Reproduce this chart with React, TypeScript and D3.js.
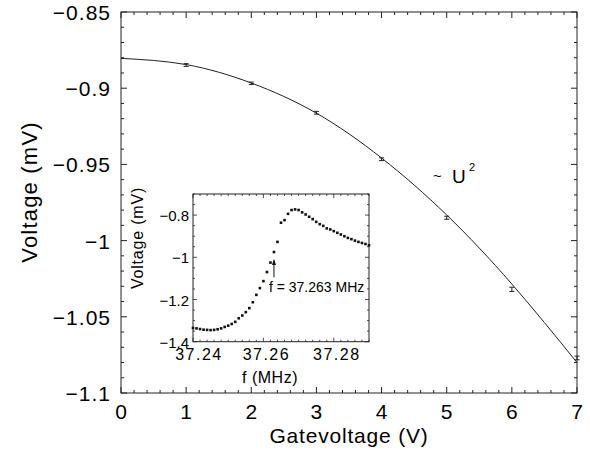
import React from "react";
import * as d3 from "d3";

// ---- main plot data ----
const gateV = [1, 2, 3, 4, 5, 6, 7];
const voltage = [-0.8848, -0.8968, -0.9161, -0.9466, -0.985, -1.032, -1.077];
const voltageErr = [0.0009, 0.0008, 0.0009, 0.0009, 0.001, 0.0014, 0.0012];
// fitted ~U^2 curve
const fitX = [0, 1, 2, 3, 4, 5, 6, 7];
const fitV = [-0.8804, -0.8845, -0.8966, -0.9164, -0.9458, -0.9832, -1.0285, -1.08];

const mainXTicks = [0, 1, 2, 3, 4, 5, 6, 7];
const mainXLabels = ["0", "1", "2", "3", "4", "5", "6", "7"];
const mainYTicks = [-0.85, -0.9, -0.95, -1, -1.05, -1.1];
const mainYLabels = ["\u22120.85", "\u22120.9", "\u22120.95", "\u22121", "\u22121.05", "\u22121.1"];

// ---- inset data ----
const insetF = [
  37.24, 37.241, 37.242, 37.243, 37.244, 37.245, 37.246, 37.247, 37.248, 37.249,
  37.25, 37.251, 37.252, 37.253, 37.254, 37.255, 37.256, 37.257, 37.258, 37.259,
  37.26, 37.261, 37.262, 37.263, 37.264, 37.265, 37.266, 37.267, 37.268, 37.269,
  37.27, 37.271, 37.272, 37.273, 37.274, 37.275, 37.276, 37.277, 37.278, 37.279,
  37.28, 37.281, 37.282, 37.283, 37.284, 37.285, 37.286, 37.287, 37.288, 37.289,
  37.29,
];
const insetV = [
  -1.335, -1.337, -1.34, -1.343, -1.344, -1.345, -1.344, -1.341, -1.337, -1.33,
  -1.324, -1.316, -1.306, -1.289, -1.276, -1.26, -1.241, -1.213, -1.178, -1.146,
  -1.113, -1.07, -1.025, -0.975, -0.927, -0.836, -0.824, -0.794, -0.776, -0.773,
  -0.776, -0.787, -0.797, -0.808, -0.819, -0.832, -0.843, -0.851, -0.863, -0.868,
  -0.876, -0.884, -0.892, -0.9, -0.908, -0.914, -0.921, -0.927, -0.932, -0.937,
  -0.943,
];
const insetXTicks = [37.24, 37.26, 37.28];
const insetXLabels = ["37.24", "37.26", "37.28"];
const insetYTicks = [-1.4, -1.2, -1, -0.8];
const insetYLabels = ["\u22121.4", "\u22121.2", "\u22121", "\u22120.8"];
const markerF = 37.263;
const markerLabel = "f = 37.263 MHz";

const FONT = "'Liberation Sans', Arial, Helvetica, sans-serif";

export default function App() {
  const x = d3.scaleLinear().domain([0, 7]).range([121, 577]);
  const y = d3.scaleLinear().domain([-1.1, -0.85]).range([393, 12]);
  const ix = d3.scaleLinear().domain([37.24, 37.29]).range([193, 369]);
  const iy = d3.scaleLinear().domain([-1.4, -0.7]).range([341.7, 194]);

  const fitLine = d3
    .line<number>()
    .x((d) => x(d))
    .y((_, i) => y(fitV[i]))
    .curve(d3.curveNatural);

  const xMinor = d3.range(0, 7.0001, 0.2);
  const yMinor = d3.range(-1.1, -0.8499, 0.01);
  const ixMinor = d3.range(37.24, 37.29001, 0.002);
  const iyMinor = d3.range(-1.4, -0.6999, 0.05);
  const isMajor = (v: number, arr: number[]) => arr.some((a) => Math.abs(a - v) < 1e-6);

  const stroke = "#222";
  const [x0, x1] = x.range();
  const [y0, y1] = y.range();
  const [ix0, ix1] = ix.range();
  const [iy0, iy1] = iy.range();

  return (
    <svg
      width={590}
      height={456}
      style={{ position: "absolute", left: 0, top: 0, background: "#fff" }}
      fontFamily={FONT}
    >
      <rect x={0} y={0} width={590} height={456} fill="#fff" />
      {/* main frame */}
      <rect x={x0} y={y1} width={x1 - x0} height={y0 - y1} fill="none" stroke={stroke} strokeWidth={1} />
      {xMinor.map((v, i) => {
        const len = isMajor(v, mainXTicks) ? 6 : 3;
        return (
          <g key={"xt" + i} stroke={stroke} strokeWidth={1}>
            <line x1={x(v)} x2={x(v)} y1={y0} y2={y0 - len} />
            <line x1={x(v)} x2={x(v)} y1={y1} y2={y1 + len} />
          </g>
        );
      })}
      {yMinor.map((v, i) => {
        const len = isMajor(v, mainYTicks) ? 6 : 3;
        return (
          <g key={"yt" + i} stroke={stroke} strokeWidth={1}>
            <line x1={x0} x2={x0 + len} y1={y(v)} y2={y(v)} />
            <line x1={x1} x2={x1 - len} y1={y(v)} y2={y(v)} />
          </g>
        );
      })}
      {mainXTicks.map((v, i) => (
        <text key={"xl" + i} x={x(v)} y={419} fontSize={21} letterSpacing={1} dx={0.5} textAnchor="middle" fill="#000">
          {mainXLabels[i]}
        </text>
      ))}
      {mainYTicks.map((v, i) => (
        <text key={"yl" + i} x={111} y={y(v) + 8} fontSize={21} letterSpacing={1} textAnchor="end" fill="#000">
          {mainYLabels[i]}
        </text>
      ))}
      <text x={(x0 + x1) / 2} y={443} fontSize={21} letterSpacing={0.8} textAnchor="middle" fill="#000">
        Gatevoltage (V)
      </text>
      <text
        transform={`translate(37,${192}) rotate(-90)`}
        fontSize={22}
        letterSpacing={1.2}
        textAnchor="middle"
        fill="#000"
      >
        Voltage (mV)
      </text>

      {/* fit curve */}
      <path d={fitLine(fitX) || ""} fill="none" stroke="#222" strokeWidth={1} />
      {/* error bars */}
      {gateV.map((g, i) => {
        const cx = x(g);
        const top = y(voltage[i] + voltageErr[i]);
        const bot = y(voltage[i] - voltageErr[i]);
        return (
          <g key={"eb" + i} stroke="#222" strokeWidth={1}>
            <line x1={cx} x2={cx} y1={top} y2={bot} />
            <line x1={cx - 2.5} x2={cx + 2.5} y1={top} y2={top} />
            <line x1={cx - 2.5} x2={cx + 2.5} y1={bot} y2={bot} />
          </g>
        );
      })}
      <text x={433} y={181} fontSize={15} fill="#000">
        ~
      </text>
      <text x={452} y={183} fontSize={19} fill="#000">
        U
      </text>
      <text x={469} y={170.5} fontSize={11} fill="#000">
        2
      </text>

      {/* inset */}
      <rect x={ix0} y={iy1} width={ix1 - ix0} height={iy0 - iy1} fill="#fff" stroke={stroke} strokeWidth={1} />
      {ixMinor.map((v, i) => {
        const len = isMajor(v, insetXTicks) ? 4 : 2;
        return (
          <g key={"ixt" + i} stroke={stroke} strokeWidth={0.8}>
            <line x1={ix(v)} x2={ix(v)} y1={iy0} y2={iy0 - len} />
            <line x1={ix(v)} x2={ix(v)} y1={iy1} y2={iy1 + len} />
          </g>
        );
      })}
      {iyMinor.map((v, i) => {
        const len = isMajor(v, insetYTicks) ? 4 : 2;
        return (
          <g key={"iyt" + i} stroke={stroke} strokeWidth={0.8}>
            <line x1={ix0} x2={ix0 + len} y1={iy(v)} y2={iy(v)} />
            <line x1={ix1} x2={ix1 - len} y1={iy(v)} y2={iy(v)} />
          </g>
        );
      })}
      {insetXTicks.map((v, i) => (
        <text key={"ixl" + i} x={ix(v)} y={iy0 + 18.5} dx={i === 0 ? 6 : 3} fontSize={16} letterSpacing={1.5} textAnchor="middle" fill="#000">
          {insetXLabels[i]}
        </text>
      ))}
      {insetYTicks.map((v, i) => (
        <text key={"iyl" + i} x={ix0 - 4} y={iy(v) + 6} fontSize={15} textAnchor="end" fill="#000">
          {insetYLabels[i]}
        </text>
      ))}
      <text x={270} y={383} fontSize={16} letterSpacing={0.5} textAnchor="middle" fill="#000">
        f (MHz)
      </text>
      <text transform={`translate(143,238) rotate(-90)`} fontSize={16} letterSpacing={0.8} textAnchor="middle" fill="#000">
        Voltage (mV)
      </text>
      {insetF.map((f, i) => (
        <rect key={"ip" + i} x={ix(f) - 1.3} y={iy(insetV[i]) - 1.3} width={2.6} height={2.6} fill="#111" />
      ))}
      {/* marker arrow */}
      <line x1={ix(markerF)} x2={ix(markerF)} y1={iy(-1.095)} y2={iy(-1.015)} stroke="#111" strokeWidth={1} />
      <path d={`M${ix(markerF)},${iy(-1.008)} l-2,6 l4,0 z`} fill="#111" />
      <text x={ix(markerF) - 5} y={iy(-1.165)} fontSize={14} fill="#000">
        {markerLabel}
      </text>
    </svg>
  );
}
